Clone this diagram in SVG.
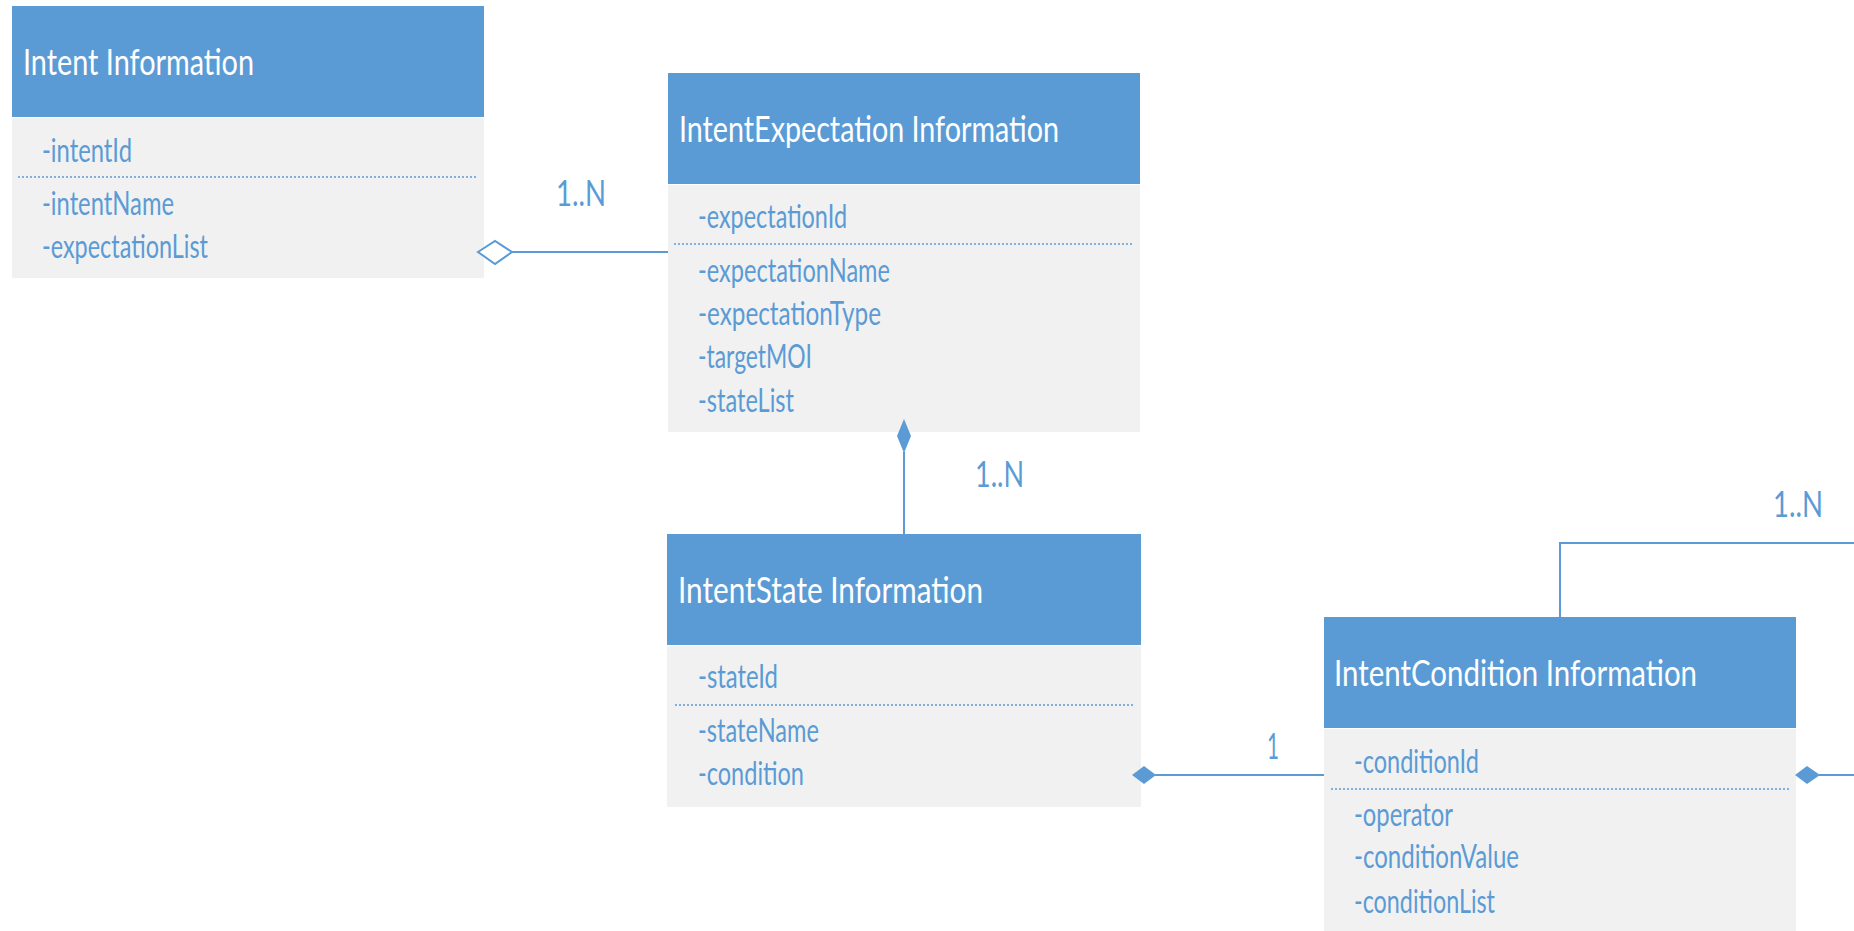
<svg xmlns="http://www.w3.org/2000/svg" width="1854" height="931" viewBox="0 0 1854 931">
<style>
.hdr{fill:#5B9BD5}
.body{fill:#F1F1F1}
.title{font-family:Lato,"Liberation Sans",sans-serif;font-size:36px;fill:#FFFFFF}
.attr{font-family:Lato,"Liberation Sans",sans-serif;font-size:32px;fill:#5B9BD5}
.lbl{font-family:Lato,"Liberation Sans",sans-serif;font-size:36px;fill:#5B9BD5}
.dot{stroke:#5B9BD5;stroke-width:1.6;stroke-dasharray:2 2;fill:none}
.conn{stroke:#5B9BD5;stroke-width:2;fill:none}
.fd{fill:#5B9BD5;stroke:none}
.od{fill:#FFFFFF;stroke:#5B9BD5;stroke-width:2}
</style>
<rect width="1854" height="931" fill="#FFFFFF"/>
<g id="intent">
<rect class="hdr" x="12" y="6" width="472" height="111"/>
<rect class="body" x="12" y="118" width="472" height="160"/>
<text class="title" x="23" y="75" textLength="231" lengthAdjust="spacingAndGlyphs">Intent Information</text>
<text class="attr" x="42" y="162" textLength="90" lengthAdjust="spacingAndGlyphs">-intentId</text>
<line class="dot" x1="18" y1="177" x2="477" y2="177"/>
<text class="attr" x="42" y="215" textLength="132" lengthAdjust="spacingAndGlyphs">-intentName</text>
<text class="attr" x="42" y="258" textLength="166" lengthAdjust="spacingAndGlyphs">-expectationList</text>
</g>
<g id="expectation">
<rect class="hdr" x="668" y="73" width="472" height="111"/>
<rect class="body" x="668" y="185" width="472" height="247"/>
<text class="title" x="679" y="142" textLength="380" lengthAdjust="spacingAndGlyphs">IntentExpectation Information</text>
<text class="attr" x="698" y="228" textLength="149" lengthAdjust="spacingAndGlyphs">-expectationId</text>
<line class="dot" x1="674" y1="244" x2="1133" y2="244"/>
<text class="attr" x="698" y="282" textLength="192" lengthAdjust="spacingAndGlyphs">-expectationName</text>
<text class="attr" x="698" y="325" textLength="183" lengthAdjust="spacingAndGlyphs">-expectationType</text>
<text class="attr" x="698" y="368" textLength="114" lengthAdjust="spacingAndGlyphs">-targetMOI</text>
<text class="attr" x="698" y="412" textLength="96" lengthAdjust="spacingAndGlyphs">-stateList</text>
</g>
<g id="state">
<rect class="hdr" x="667" y="534" width="474" height="111"/>
<rect class="body" x="667" y="646" width="474" height="161"/>
<text class="title" x="678" y="603" textLength="305" lengthAdjust="spacingAndGlyphs">IntentState  Information</text>
<text class="attr" x="698" y="688" textLength="80" lengthAdjust="spacingAndGlyphs">-stateId</text>
<line class="dot" x1="675" y1="705" x2="1133" y2="705"/>
<text class="attr" x="698" y="742" textLength="121" lengthAdjust="spacingAndGlyphs">-stateName</text>
<text class="attr" x="698" y="785" textLength="106" lengthAdjust="spacingAndGlyphs">-condition</text>
</g>
<g id="condition">
<rect class="hdr" x="1324" y="617" width="472" height="111"/>
<rect class="body" x="1324" y="729" width="472" height="202"/>
<text class="title" x="1334" y="686" textLength="363" lengthAdjust="spacingAndGlyphs">IntentCondition  Information</text>
<text class="attr" x="1354" y="773" textLength="125" lengthAdjust="spacingAndGlyphs">-conditionId</text>
<line class="dot" x1="1331" y1="789" x2="1790" y2="789"/>
<text class="attr" x="1354" y="826" textLength="99" lengthAdjust="spacingAndGlyphs">-operator</text>
<text class="attr" x="1354" y="868" textLength="165" lengthAdjust="spacingAndGlyphs">-conditionValue</text>
<text class="attr" x="1354" y="913" textLength="141" lengthAdjust="spacingAndGlyphs">-conditionList</text>
</g>
<g id="connectors">
<line class="conn" x1="512" y1="252" x2="668" y2="252"/>
<polygon class="od" points="478,252 495,241 512,252 495,264"/>
<text class="lbl" x="556" y="206" textLength="50" lengthAdjust="spacingAndGlyphs">1..N</text>
<line class="conn" x1="904" y1="452" x2="904" y2="534"/>
<polygon class="fd" points="904,419 911,436 904,453 897,436"/>
<text class="lbl" x="975" y="487" textLength="49" lengthAdjust="spacingAndGlyphs">1..N</text>
<line class="conn" x1="1155" y1="775" x2="1324" y2="775"/>
<polygon class="fd" points="1132,775 1144,766 1156,775 1144,784"/>
<text class="lbl" x="1267" y="759" textLength="12" lengthAdjust="spacingAndGlyphs">1</text>
<line class="conn" x1="1819" y1="775" x2="1854" y2="775"/>
<polygon class="fd" points="1795,775 1807,766 1820,775 1807,784"/>
<polyline class="conn" points="1560,617 1560,543 1854,543"/>
<text class="lbl" x="1773" y="517" textLength="50" lengthAdjust="spacingAndGlyphs">1..N</text>
</g>
</svg>
